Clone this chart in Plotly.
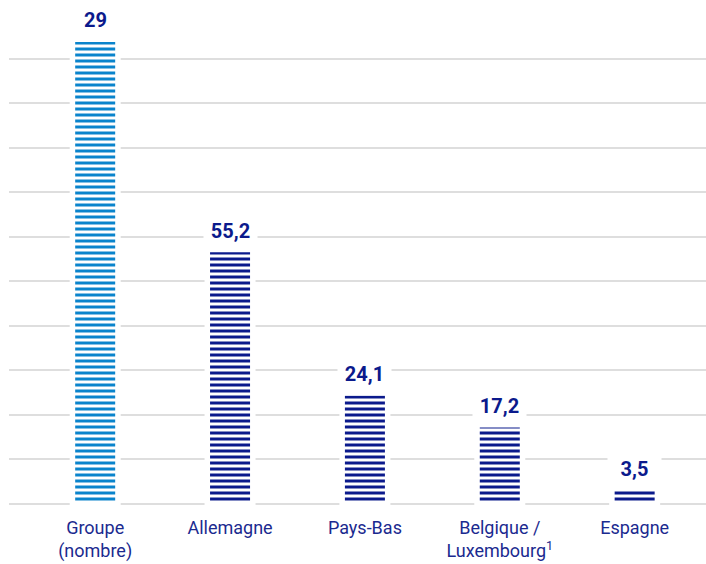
import plotly.graph_objects as go

# ---- data ----
categories = ["Groupe<br>(nombre)", "Allemagne", "Pays-Bas",
              "Belgique /<br>Luxembourg<sup>1</sup>", "Espagne"]
group_category = [categories[0]]
group_values = [29]
country_categories = categories[1:]
country_values = [55.2, 24.1, 17.2, 3.5]


def fmt(v):
    s = f"{v:.1f}" if isinstance(v, float) else str(v)
    return s.replace(".", ",")


# ---- style ----
NAVY = "#0b1a8c"
LIGHT = "#0a84cc"
TEXT = "#1b2a8f"
GRID = "#dedede"
FONT = "Roboto, sans-serif"

FIG_W, FIG_H = 706, 564
M_L, M_R, M_T, M_B = 9, 0, 10, 58
PLOT_H = FIG_H - M_T - M_B
BASE_PAD = 2                # px between plot bottom and the zero line
PX_PER_UNIT = 4.61          # primary scale (percent)
PX_PER_UNIT_G = 16.03       # secondary scale (count)
GRID_PX = 44.53
bar_w = 45.5 / 134.85

fig = go.Figure()

fig.add_trace(go.Bar(
    x=group_category, y=group_values, yaxis="y2", width=bar_w,
    marker=dict(color=LIGHT,
                line=dict(color="white", width=5.5),
                pattern=dict(shape="-", size=6, solidity=0.5,
                             fgcolor=LIGHT, bgcolor="white",
                             fillmode="replace")),
    hoverinfo="skip", showlegend=False,
))
fig.add_trace(go.Bar(
    x=country_categories, y=country_values, width=bar_w,
    marker=dict(color=NAVY,
                line=dict(color="white", width=5.5),
                pattern=dict(shape="-", size=6, solidity=0.5,
                             fgcolor=NAVY, bgcolor="white",
                             fillmode="replace")),
    hoverinfo="skip", showlegend=False,
))

annotations = []
for c, v in zip(group_category, group_values):
    annotations.append(dict(x=c, y=v, xref="x", yref="y2", text=f"<b>{fmt(v)}</b>",
                            showarrow=False, yanchor="bottom", yshift=5,
                            width=51, height=34, valign="bottom", bgcolor="white",
                            font=dict(family=FONT, size=20, color=NAVY)))
for c, v in zip(country_categories, country_values):
    annotations.append(dict(x=c, y=v, xref="x", yref="y", text=f"<b>{fmt(v)}</b>",
                            showarrow=False, yanchor="bottom", yshift=5,
                            width=51, height=34, valign="bottom", bgcolor="white",
                            font=dict(family=FONT, size=20, color=NAVY)))

grid_units = GRID_PX / PX_PER_UNIT
fig.update_layout(
    width=FIG_W, height=FIG_H,
    margin=dict(l=M_L, r=M_R, t=M_T, b=M_B),
    paper_bgcolor="white", plot_bgcolor="white",
    barmode="overlay",
    annotations=annotations,
    xaxis=dict(type="category", categoryorder="array", categoryarray=categories,
               range=[-0.639, 4.529], showgrid=False, showline=False, zeroline=False,
               ticks="", ticklabelstandoff=9,
               tickfont=dict(family=FONT, size=18, color=TEXT)),
    yaxis=dict(range=[-BASE_PAD / PX_PER_UNIT, (PLOT_H - BASE_PAD) / PX_PER_UNIT],
               showticklabels=False,
               tickvals=[i * grid_units for i in range(11)],
               showgrid=True, gridcolor=GRID, gridwidth=1.5,
               zeroline=True, zerolinecolor=GRID, zerolinewidth=1.5,
               showline=False, ticks=""),
    yaxis2=dict(range=[-BASE_PAD / PX_PER_UNIT_G, (PLOT_H - BASE_PAD) / PX_PER_UNIT_G],
                overlaying="y", side="right",
                showticklabels=False, showgrid=False, zeroline=False,
                showline=False, ticks=""),
)

fig.write_html("out.html",
               config={"displayModeBar": False},
               post_script="document.body.style.margin='0px';"
                           "document.body.style.overflow='hidden';")
